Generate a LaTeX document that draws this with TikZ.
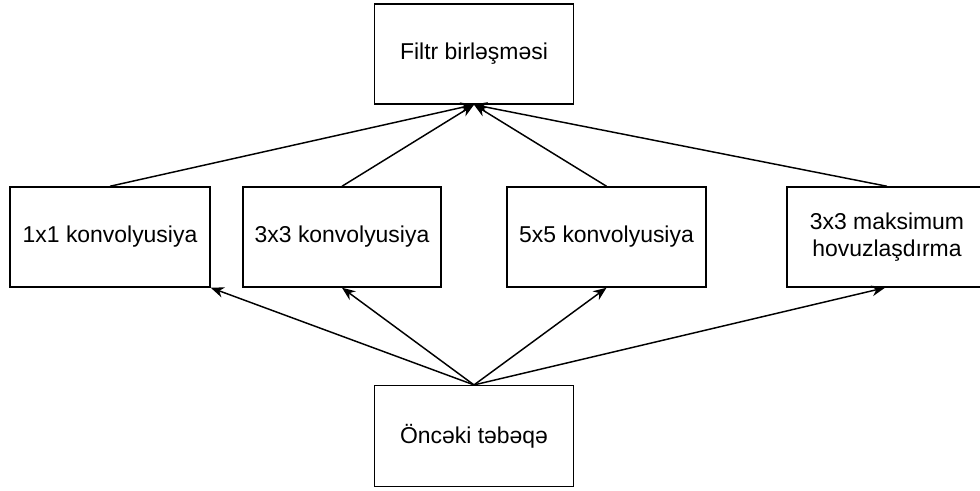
\documentclass[tikz,border=0pt]{standalone}
\usepackage{fontspec}
\setmainfont{Liberation Sans}
\usetikzlibrary{arrows.meta}

\tikzset{
    blok/.style={draw, line width=1.1pt, minimum height=75pt, align=center,
        font=\fontsize{17.2}{20}\selectfont, inner sep=0pt},
    ox/.style={-{Stealth[length=10pt, width=8pt]}, line width=1.1pt}
}

\begin{document}
\begin{tikzpicture}[x=0.75pt, y=-0.75pt]
    \useasboundingbox (0, 0) rectangle (980, 491);

    % Top - concatenation
    \node[blok, minimum width=149pt] (birl) at (474, 54) {Filtr birləşməsi};

    % Middle row - parallel branches
    \node[blok, minimum width=150pt] (k1) at (110, 237) {1x1 konvolyusiya};
    \node[blok, minimum width=148.5pt] (k3) at (342, 237) {3x3 konvolyusiya};
    \node[blok, minimum width=149pt] (k5) at (606.5, 237) {5x5 konvolyusiya};
    \node[blok, minimum width=150pt] (pool) at (887, 237) {3x3 maksimum\\hovuzlaşdırma};

    % Bottom - input
    \node[blok, minimum width=149pt, minimum height=75.5pt] (prev) at (474, 436) {Öncəki təbəqə};

    % Input to branches
    \draw[ox] (prev.north) -- (k1.south east);
    \draw[ox] (prev.north) -- (k3.south);
    \draw[ox] (prev.north) -- (k5.south);
    \draw[ox] (prev.north) -- ([xshift=-1.5pt]pool.south);

    % Branches to concatenation
    \draw[ox] (k1.north) -- (birl.south);
    \draw[ox] (k3.north) -- (birl.south);
    \draw[ox] (k5.north) -- (birl.south);
    \draw[ox] (pool.north) -- (birl.south);
\end{tikzpicture}
\end{document}
